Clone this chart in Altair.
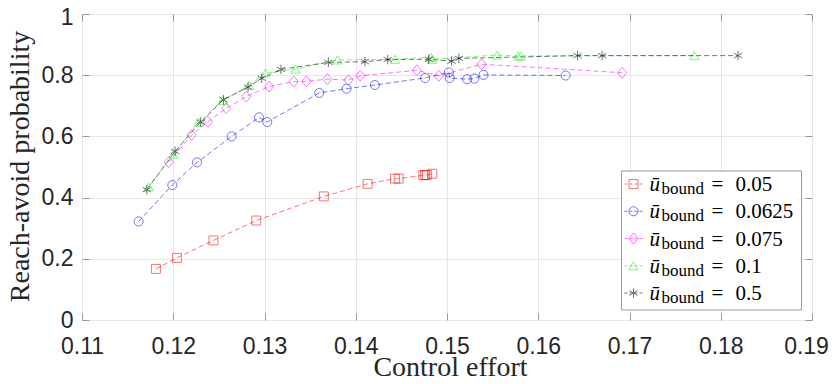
import altair as alt
import pandas as pd

series_labels = ["0.05", "0.0625", "0.075", "0.1", "0.5"]
colors = ["#ff0000", "#0000ff", "#ff00ff", "#00ff00", "#000000"]
x_ticks = [0.11, 0.12, 0.13, 0.14, 0.15, 0.16, 0.17, 0.18, 0.19]
y_ticks = [0, 0.2, 0.4, 0.6, 0.8, 1]

red_x = [0.1181, 0.1204, 0.1244, 0.1291, 0.1365, 0.1413, 0.1443, 0.1447, 0.1474, 0.1476, 0.1478, 0.1484]
red_y = [0.167, 0.203, 0.260, 0.325, 0.404, 0.445, 0.462, 0.462, 0.473, 0.474, 0.474, 0.478]

blue_x = [0.1162, 0.1199, 0.1226, 0.1264, 0.1294, 0.1303, 0.1360, 0.1390, 0.1421, 0.1476, 0.1502, 0.1503, 0.1522, 0.1530, 0.1540, 0.1630]
blue_y = [0.322, 0.441, 0.515, 0.600, 0.662, 0.647, 0.742, 0.756, 0.768, 0.791, 0.809, 0.791, 0.787, 0.789, 0.801, 0.799]

magenta_x = [0.1195, 0.1220, 0.1238, 0.1258, 0.1280, 0.1305, 0.1332, 0.1346, 0.1369, 0.1392, 0.1405, 0.1467, 0.1491, 0.1538, 0.1692]
magenta_y = [0.516, 0.604, 0.648, 0.692, 0.730, 0.763, 0.779, 0.780, 0.787, 0.784, 0.798, 0.816, 0.798, 0.836, 0.808]

green_x = [0.1173, 0.1200, 0.1228, 0.1254, 0.1283, 0.1301, 0.1334, 0.1380, 0.1443, 0.1482, 0.1484, 0.1555, 0.1578, 0.1581, 0.1771]
green_y = [0.435, 0.542, 0.647, 0.717, 0.767, 0.807, 0.820, 0.850, 0.852, 0.859, 0.852, 0.866, 0.863, 0.863, 0.864]

black_x = [0.1171, 0.1202, 0.1230, 0.1255, 0.1282, 0.1297, 0.1318, 0.1370, 0.1410, 0.1435, 0.1480, 0.1505, 0.1513, 0.1643, 0.1670, 0.1819]
black_y = [0.426, 0.551, 0.647, 0.720, 0.761, 0.790, 0.819, 0.842, 0.844, 0.851, 0.852, 0.846, 0.855, 0.864, 0.864, 0.864]

all_x = [red_x, blue_x, magenta_x, green_x, black_x]
all_y = [red_y, blue_y, magenta_y, green_y, black_y]

rows = []
for name, xs, ys in zip(series_labels, all_x, all_y):
    for i, (a, b) in enumerate(zip(xs, ys)):
        rows.append({"series": name, "x": a, "y": b, "order": i})
df = pd.DataFrame(rows)

legend_df = pd.DataFrame({"series": series_labels, "u": ["\u016b"] * 5,
                          "sub": ["bound"] * 5, "eq": ["="] * 5})

shapes = ["square", "circle", "M0,-1.2L1,0L0,1.2L-1,0Z", "triangle-up",
          "M0,-1L0,1M-0.87,-0.5L0.87,0.5M-0.87,0.5L0.87,-0.5"]
sizes = [80, 90, 100, 115, 100]

color_enc = alt.Color("series:N", scale=alt.Scale(domain=series_labels, range=colors), legend=None)
shape_enc = alt.Shape("series:N", scale=alt.Scale(domain=series_labels, range=shapes), legend=None)
size_enc = alt.Size("series:N", scale=alt.Scale(domain=series_labels, range=sizes), legend=None)

xscale = alt.Scale(domain=[0.11, 0.19], nice=False, zero=False)
yscale = alt.Scale(domain=[0, 1], nice=False)

tick_font = "Liberation Sans"
title_font = "Liberation Serif"
grey = "#9a9a9a"

x_axis = alt.Axis(values=x_ticks, format=".2f", orient="bottom", offset=-7, tickSize=7, domain=False,
                  grid=True, gridColor="#e6e6e6", tickColor=grey, labelFlush=False,
                  labelFont=tick_font, labelFontSize=23, labelColor="#262626",
                  labelPadding=33, labelBaseline="alphabetic",
                  labelOffset={"condition": {"test": "datum.value > 0.185", "value": -6}, "value": 0},
                  title="Control effort", titleFont=title_font, titleFontSize=28,
                  titleFontWeight="normal", titleColor="#262626",
                  titleBaseline="alphabetic", titleX=368, titleY=62, titleAlign="center")
y_axis = alt.Axis(values=y_ticks, format=".1~f", orient="left", offset=-7, tickSize=7, domain=False,
                  grid=True, gridColor="#e6e6e6", tickColor=grey, labelFlush=False,
                  labelFont=tick_font, labelFontSize=23, labelColor="#262626",
                  labelPadding=9,
                  labelOffset={"condition": {"test": "datum.value > 0.95", "value": 3}, "value": 0},
                  title="Reach-avoid probability", titleFont=title_font, titleFontSize=28,
                  titleFontWeight="normal", titleColor="#262626",
                  titleBaseline="alphabetic", titleX=-61, titleY=152, titleAlign="center", titleAngle=270)

x_top = alt.Axis(values=x_ticks, orient="top", offset=-7, tickSize=7, domain=False, grid=False,
                 labels=False, tickColor=grey, title="")
y_right = alt.Axis(values=y_ticks, orient="right", offset=-7, tickSize=7, domain=False, grid=False,
                   labels=False, tickColor=grey, title="")

base = alt.Chart(df)
lines = base.mark_line(strokeDash=[5, 3], strokeWidth=1, opacity=0.55).encode(
    x=alt.X("x:Q", scale=xscale, axis=x_axis),
    y=alt.Y("y:Q", scale=yscale, axis=y_axis),
    color=color_enc, detail="series:N", order="order:Q")
points = base.mark_point(filled=False, strokeWidth=1, opacity=0.55).encode(
    x=alt.X("x:Q", scale=xscale, axis=x_axis),
    y=alt.Y("y:Q", scale=yscale, axis=y_axis),
    color=color_enc, shape=shape_enc, size=size_enc)
ticks = base.mark_point(opacity=0).encode(
    x=alt.X("x:Q", scale=xscale, axis=x_top),
    y=alt.Y("y:Q", scale=yscale, axis=y_right))

main = alt.layer(alt.layer(lines, points), ticks).resolve_axis(x="independent", y="independent")

# legend
ly = alt.Y("series:N", scale=alt.Scale(type="point", domain=series_labels, range=[170, 279], padding=0), axis=None)
lbase = alt.Chart(legend_df)
lbox = alt.Chart(pd.DataFrame({"k": [0]})).mark_rect(fill="white", stroke=grey, strokeWidth=1).encode(
    x=alt.value(539.5), x2=alt.value(719.5), y=alt.value(157), y2=alt.value(296))
lline = lbase.mark_rule(strokeDash=[3, 2], strokeWidth=1, opacity=0.55).encode(
    x=alt.value(542.5), x2=alt.value(560.5), y=ly, color=color_enc)
lpt = lbase.mark_point(filled=False, strokeWidth=1, opacity=0.55).encode(
    x=alt.value(551.5), y=ly, color=color_enc, shape=shape_enc, size=size_enc)
lu = lbase.mark_text(font=title_font, fontStyle="italic", fontSize=21, align="left",
                     baseline="alphabetic", dy=7, color="black").encode(
    x=alt.value(567.5), y=ly, text="u:N")
lsub = lbase.mark_text(font=title_font, fontSize=17, align="left",
                       baseline="alphabetic", dy=10, color="black").encode(
    x=alt.value(579.5), y=ly, text="sub:N")
leq = lbase.mark_text(font=title_font, fontSize=21, align="left",
                      baseline="alphabetic", dy=7, color="black").encode(
    x=alt.value(629.5), y=ly, text="eq:N")
lval = lbase.mark_text(font=title_font, fontSize=21, align="left",
                       baseline="alphabetic", dy=7, color="black").encode(
    x=alt.value(653.5), y=ly, text="series:N")

legend = alt.layer(lbox, lline, lpt, lu, lsub, leq, lval)

chart = alt.layer(main, legend).resolve_scale(y="independent").properties(
    width=730, height=306,
    autosize=alt.AutoSizeParams(type="none"),
    padding={"left": 74, "top": 6, "right": 17, "bottom": 56},
).configure_view(stroke=grey, strokeWidth=1).configure(background="white")

chart.save("out.html", embed_options={"renderer": "svg", "actions": False})
